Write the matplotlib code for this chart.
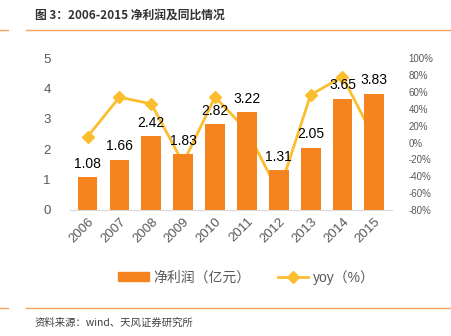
import matplotlib
matplotlib.use("Agg")
import matplotlib.pyplot as plt
from matplotlib.lines import Line2D
from matplotlib.patches import Patch

plt.rcParams['font.family'] = ['Liberation Sans', 'Noto Sans CJK SC', 'DejaVu Sans']

years = ['2006', '2007', '2008', '2009', '2010', '2011', '2012', '2013', '2014', '2015']
profit = [1.08, 1.66, 2.42, 1.83, 2.82, 3.22, 1.31, 2.05, 3.65, 3.83]
yoy = [7.0, 53.7, 45.8, -24.4, 54.1, 14.2, -59.3, 56.5, 78.0, 4.9]
left_ticks = [0, 1, 2, 3, 4, 5]
right_ticks = [-80, -60, -40, -20, 0, 20, 40, 60, 80, 100]

bar_color = '#F5841F'
line_color = '#FBBE2E'
gray = '#595959'

fig = plt.figure(figsize=(4.52, 3.36), dpi=100)
ax = fig.add_axes([0.155, 0.375, 0.712, 0.452])
x = list(range(len(years)))
ax.bar(x, profit, width=0.62, color=bar_color, zorder=2)
for xi, v in zip(x, profit):
    ax.text(xi, v + 0.22, f'{v:.2f}', ha='center', va='bottom', fontsize=10, color='black', zorder=5)
ax.set_ylim(0, 5)
ax.set_xlim(-0.55, len(years) - 0.45)
ax.set_yticks(left_ticks)
ax.set_yticklabels([str(t) for t in left_ticks], fontsize=9.5, color=gray)
ax.set_xticks(x)
ax.set_xticklabels(years, rotation=45, ha='right', rotation_mode='anchor', fontsize=9.5, color=gray)
for s in ['top', 'right', 'left']:
    ax.spines[s].set_visible(False)
ax.spines['bottom'].set_color('#D9D9D9')
ax.tick_params(axis='y', length=0, pad=14)
ax.tick_params(axis='x', length=0, pad=4)

ax2 = ax.twinx()
ax2.plot(x, yoy, color=line_color, lw=2, marker='D', ms=6, zorder=3)
ax2.set_ylim(-80, 100)
ax2.set_yticks(right_ticks)
ax2.set_yticklabels([f'{t}%' for t in right_ticks], fontsize=7, color=gray)
ax2.tick_params(axis='y', length=0, pad=12)
for s in ['top', 'right', 'left', 'bottom']:
    ax2.spines[s].set_visible(False)
ax.set_zorder(ax2.get_zorder() + 1)
ax.patch.set_visible(False)

handles = [Patch(color=bar_color), Line2D([0], [0], color=line_color, lw=2, marker='D', ms=6)]
labels = ['净利润（亿元）', 'yoy（%）']
fig.legend(handles, labels, loc='center', bbox_to_anchor=(0.545, 0.175), ncol=2, frameon=False,
           fontsize=10, labelcolor=gray, handlelength=2.2, handleheight=0.6, columnspacing=2.0,
           handletextpad=0.3)

fig.text(0.077, 0.955, '图 3：2006-2015 净利润及同比情况', fontsize=8.5, fontweight='bold',
         color='#333333', va='center', family=['Noto Sans CJK SC', 'DejaVu Sans'])
fig.add_artist(Line2D([0, 0.018], [0.91, 0.91], color='#F4A460', lw=1))
fig.add_artist(Line2D([0.058, 1.0], [0.91, 0.91], color='#F4A460', lw=1))
fig.add_artist(Line2D([0, 0.018], [0.083, 0.083], color='#F4A460', lw=1))
fig.add_artist(Line2D([0.058, 1.0], [0.083, 0.083], color='#F4A460', lw=1))
fig.text(0.077, 0.04, '资料来源：wind、天风证券研究所', fontsize=7.5, color='#404040', va='center',
         family=['Noto Sans CJK SC', 'DejaVu Sans'])

fig.savefig('out.png', dpi=100)
